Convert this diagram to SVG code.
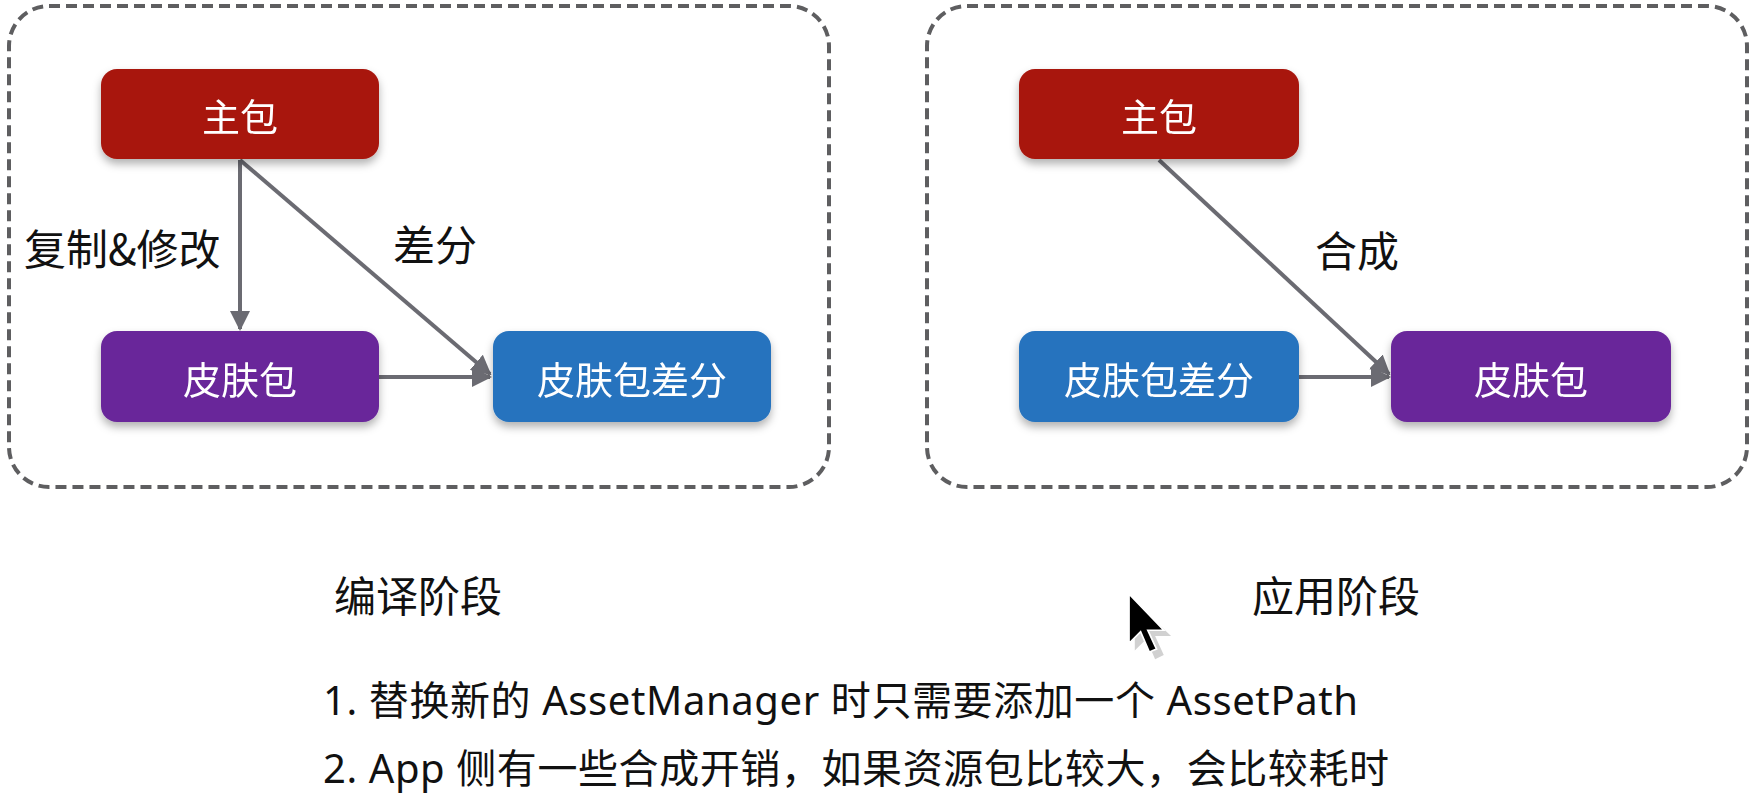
<svg xmlns="http://www.w3.org/2000/svg" width="1756" height="808" viewBox="0 0 1756 808">
<style>
.frame{fill:none;stroke:#5e5e60;stroke-width:4;stroke-dasharray:11 6}
.node{filter:url(#sh)}
.ntext{font-family:"Noto Sans CJK SC","Noto Sans",sans-serif;font-size:38px;fill:#fff;text-anchor:middle;dominant-baseline:central}
.lbl{font-family:"Noto Sans CJK SC","Noto Sans",sans-serif;font-size:42px;fill:#111;dominant-baseline:central}
.note{font-family:"Noto Sans","Noto Sans CJK SC",sans-serif;font-size:40px;fill:#111;dominant-baseline:central}
.conn{fill:none;stroke:#6b6b72;stroke-width:4;marker-end:url(#ah)}
</style>
<defs>
<filter id="sh" x="-10%" y="-10%" width="120%" height="140%">
<feDropShadow dx="0" dy="5" stdDeviation="4" flood-color="#000" flood-opacity="0.3"/>
</filter>
<marker id="ah" viewBox="0 0 10 10" refX="9" refY="5" markerWidth="5" markerHeight="5" orient="auto" markerUnits="strokeWidth">
<path d="M0,0 L10,5 L0,10 Z" fill="#6b6b72"/>
</marker>
</defs>
<rect width="1756" height="808" fill="#fff"/>
<rect class="frame" x="9" y="6" width="820" height="481" rx="40"/>
<rect class="frame" x="927" y="6" width="820" height="481" rx="40"/>

<g id="connectors">
<line class="conn" x1="240" y1="160" x2="240" y2="329"/>
<line class="conn" x1="240" y1="160" x2="490" y2="374"/>
<line class="conn" x1="379" y1="377" x2="490" y2="377"/>
<line class="conn" x1="1159" y1="160" x2="1389" y2="374"/>
<line class="conn" x1="1299" y1="377" x2="1389" y2="377"/>
</g>

<g id="l-main" class="node"><rect x="101" y="69" width="278" height="90" rx="16" fill="#a8170f"/><text class="ntext" x="240" y="114">主包</text></g>
<g id="l-skin" class="node"><rect x="101" y="331" width="278" height="91" rx="16" fill="#69289a"/><text class="ntext" x="240" y="377">皮肤包</text></g>
<g id="l-diff" class="node"><rect x="493" y="331" width="278" height="91" rx="16" fill="#2773be"/><text class="ntext" x="632" y="377">皮肤包差分</text></g>

<g id="r-main" class="node"><rect x="1019" y="69" width="280" height="90" rx="16" fill="#a8170f"/><text class="ntext" x="1159" y="114">主包</text></g>
<g id="r-diff" class="node"><rect x="1019" y="331" width="280" height="91" rx="16" fill="#2773be"/><text class="ntext" x="1159" y="377">皮肤包差分</text></g>
<g id="r-skin" class="node"><rect x="1391" y="331" width="280" height="91" rx="16" fill="#69289a"/><text class="ntext" x="1531" y="377">皮肤包</text></g>

<text class="lbl" x="24" y="246">复制&amp;修改</text>
<text class="lbl" x="393" y="242">差分</text>
<text class="lbl" x="1315" y="248">合成</text>
<text class="lbl" x="334" y="593">编译阶段</text>
<text class="lbl" x="1252" y="593">应用阶段</text>

<text class="note" x="323" y="699" textLength="1035" lengthAdjust="spacing">1. 替换新的 AssetManager 时只需要添加一个 AssetPath</text>
<text class="note" x="323" y="767" textLength="1066" lengthAdjust="spacing">2. App 侧有一些合成开销，如果资源包比较大，会比较耗时</text>

<g id="cursor" transform="translate(1129,594) scale(1.45)">
<path d="M2,3 L2,37 L10,29 L16,43 L22,40 L16,27 L27,27 Z" fill="#000" opacity="0.18" transform="translate(2,2)"/>
<path d="M0,0 L0,34 L8,26 L14,40 L19,38 L13,25 L24,25 Z" fill="#000" stroke="#fff" stroke-width="1.2"/>
</g>
</svg>
